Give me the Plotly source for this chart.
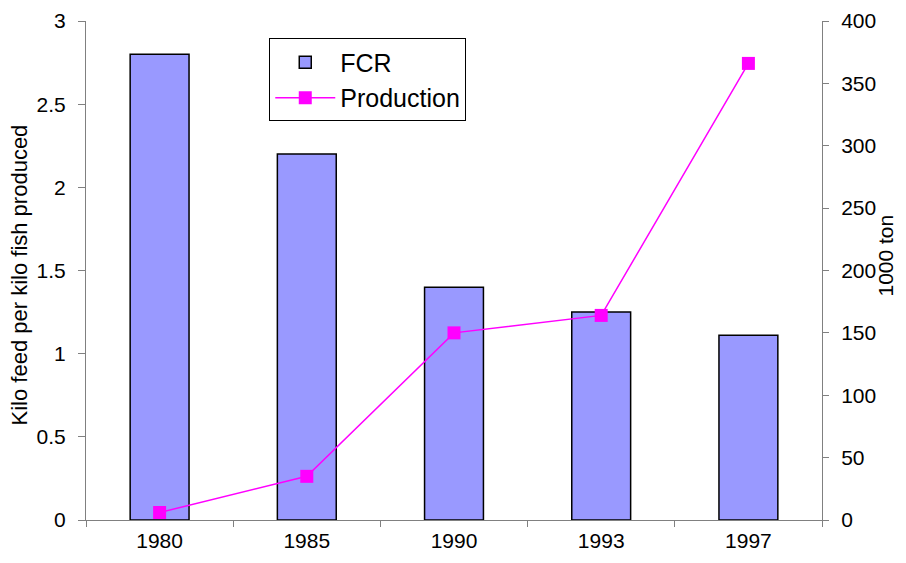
import plotly.graph_objects as go

years = ['1980', '1985', '1990', '1993', '1997']
fcr = [2.8, 2.2, 1.4, 1.25, 1.11]
production = [6, 35, 150, 164, 366]

fig = go.Figure()

fig.add_trace(go.Bar(
    x=years, y=fcr, name='FCR', width=0.4,
    marker=dict(color='#9999FF', line=dict(color='black', width=1.5)),
    yaxis='y'
))

fig.add_trace(go.Scatter(
    x=years, y=production, name='Production', mode='lines+markers',
    line=dict(color='#FF00FF', width=1.5),
    marker=dict(symbol='square', size=13, color='#FF00FF'),
    yaxis='y2'
))

FONT = 'Liberation Sans, Arial'
axis_font = dict(family=FONT, size=21, color='black')

# page body has an 8px margin, so the figure is drawn 8px in from the corner
fig.update_layout(
    width=898, height=555,
    margin=dict(l=78, r=84, t=13, b=43),
    plot_bgcolor='white', paper_bgcolor='white',
    font=dict(family=FONT, color='black'),
    xaxis=dict(
        type='category', tickson='boundaries', ticks='outside', ticklen=6,
        tickcolor='#808080', showline=True, linecolor='#808080', linewidth=1,
        showgrid=False, tickfont=axis_font, range=[-0.5, 4.5],
        automargin=False, ticklabelstandoff=2,
    ),
    yaxis=dict(
        range=[0, 3], dtick=0.5, ticks='outside', ticklen=7, tickcolor='#808080',
        showline=True, linecolor='#808080', linewidth=1, showgrid=False,
        zeroline=False, tickfont=axis_font, automargin=False,
        ticklabelstandoff=8, ticklabeloverflow='allow',
    ),
    yaxis2=dict(
        range=[0, 400], dtick=50, ticks='outside', ticklen=6, tickcolor='#808080',
        showline=True, linecolor='#808080', linewidth=1, showgrid=False,
        zeroline=False, tickfont=axis_font, overlaying='y', side='right',
        automargin=False, ticklabelstandoff=8, ticklabeloverflow='allow',
    ),
    legend=dict(
        x=0.249, y=0.965, xanchor='left', yanchor='top',
        bordercolor='black', borderwidth=1, bgcolor='white',
        font=dict(family=FONT, size=25, color='black'),
        itemwidth=60, tracegroupgap=6,
    ),
    showlegend=True,
)

# axis titles
plot_w = 898 - 78 - 84
fig.add_annotation(
    text='Kilo feed per kilo fish produced', textangle=-90,
    x=-(86 - 19) / plot_w, xref='paper', xanchor='center',
    y=0.49, yref='paper', yanchor='middle', showarrow=False,
    font=dict(family=FONT, size=22, color='black'),
)
fig.add_annotation(
    text='1000 ton', textangle=-90,
    x=1 + (886 - 822) / plot_w, xref='paper', xanchor='center',
    y=0.53, yref='paper', yanchor='middle', showarrow=False,
    font=dict(family=FONT, size=21, color='black'),
)

fig.write_html("out.html")
